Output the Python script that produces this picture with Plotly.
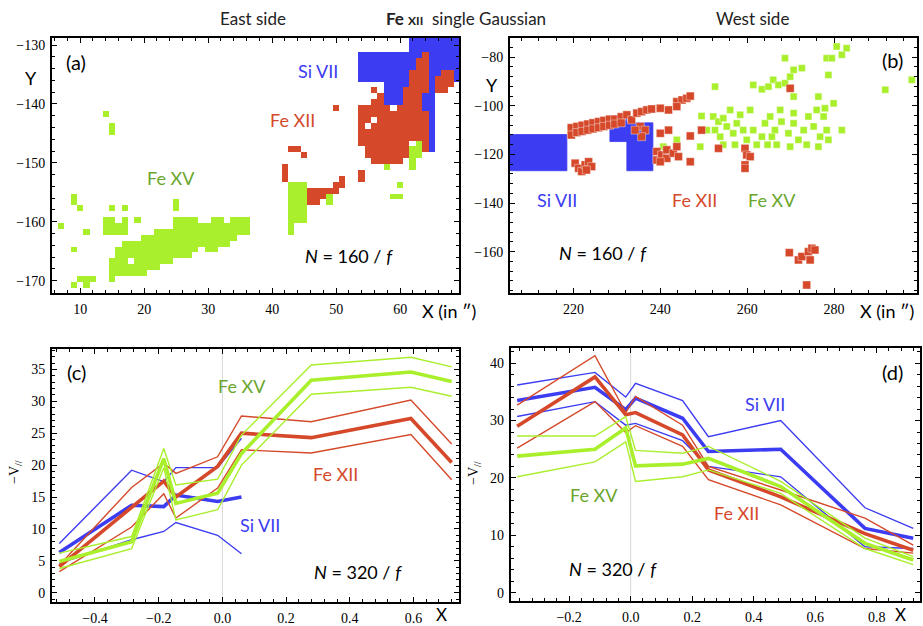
import numpy as np
import plotly.graph_objects as go

W, H = 923, 626

# ---------------- colours ----------------
BLUE = "#3c3cf2"
RED = "#d5492a"
GREEN = "#a9ef2c"
GREEN_TXT = "#6aa62c"

# ---------------- panel (a): pixel map, runs (Y, X_first, X_last) ----------------
a_blue_runs = [
    (-127.7, 62, 69), (-128.7, 62, 69), (-129.7, 62, 69), (-130.7, 62, 69),
    (-131.7, 54, 69), (-132.7, 54, 69), (-133.7, 54, 69), (-134.7, 54, 69), (-135.7, 54, 69),
    (-136.7, 58, 61), (-136.7, 65, 65), (-137.7, 58, 61), (-137.7, 65, 65),
    (-138.7, 58, 61), (-138.7, 64, 65), (-139.7, 58, 61), (-139.7, 64, 65),
    (-140.7, 64, 65), (-141.7, 65, 65), (-142.7, 65, 65), (-143.7, 65, 65),
    (-144.7, 65, 65), (-145.7, 65, 65), (-146.7, 65, 65), (-147.7, 65, 65),
]
a_red_runs = [
    (-131.7, 64, 64), (-132.7, 63, 64), (-133.7, 63, 64), (-134.7, 62, 64), (-135.7, 62, 64),
    (-134.7, 67, 68), (-135.7, 66, 68), (-136.7, 66, 68), (-137.7, 66, 67),
    (-136.7, 62, 64),
    (-137.7, 56, 56), (-137.7, 61, 64),
    (-138.7, 57, 57), (-138.7, 61, 63),
    (-139.7, 56, 57), (-139.7, 61, 63),
    (-140.7, 50, 50), (-140.7, 54, 58), (-140.7, 60, 63),
    (-141.7, 54, 64),
    (-142.7, 54, 55), (-142.7, 57, 64),
    (-143.7, 54, 54), (-143.7, 56, 64),
    (-144.7, 54, 64), (-145.7, 54, 64),
    (-146.7, 54, 61), (-146.7, 64, 64),
    (-147.7, 43, 44), (-147.7, 55, 61), (-147.7, 64, 64),
    (-148.7, 45, 45), (-148.7, 55, 61),
    (-149.7, 56, 60),
    (-150.7, 42, 42),
    (-151.7, 42, 42), (-151.7, 54, 54),
    (-152.7, 42, 42), (-152.7, 51, 51), (-152.7, 54, 54),
    (-153.7, 50, 51),
    (-154.7, 46, 50),
    (-155.7, 46, 49),
    (-156.7, 46, 47),
]
a_green_runs = [
    (-141.7, 14, 14), (-143.7, 15, 15), (-144.7, 15, 15),
    (-155.7, 9, 9), (-156.7, 9, 9), (-156.7, 25, 25),
    (-157.7, 10, 10), (-157.7, 15, 15), (-157.7, 17, 17), (-157.7, 25, 25),
    (-159.7, 14, 15), (-159.7, 17, 17), (-159.7, 19, 19), (-159.7, 25, 28),
    (-159.7, 31, 32), (-159.7, 34, 36),
    (-160.7, 7, 7), (-160.7, 14, 17), (-160.7, 25, 36),
    (-161.7, 11, 11), (-161.7, 14, 17), (-161.7, 22, 36),
    (-162.7, 20, 34),
    (-163.7, 17, 33),
    (-164.7, 9, 9), (-164.7, 16, 28), (-164.7, 30, 31),
    (-165.7, 16, 27),
    (-166.7, 15, 17), (-166.7, 19, 24),
    (-167.7, 15, 22),
    (-168.7, 15, 20),
    (-169.7, 10, 12), (-169.7, 15, 15),
    (-170.7, 9, 9), (-170.7, 11, 11),
    # right-hand green patches
    (-146.7, 63, 63), (-147.7, 62, 63), (-148.7, 62, 63), (-149.7, 62, 62), (-150.7, 62, 62),
    (-150.7, 58, 58), (-153.7, 60, 60), (-155.7, 59, 60),
    (-155.7, 49, 49), (-156.7, 49, 49),
    (-153.7, 43, 45), (-154.7, 43, 45), (-155.7, 43, 45), (-156.7, 43, 45),
    (-157.7, 43, 45), (-158.7, 43, 45), (-159.7, 43, 45), (-160.7, 43, 43), (-161.7, 43, 43),
]

# ---------------- panel (b) ----------------
b_blue_x0 = [200.0, 228.4, 232.3]
b_blue_x1 = [218.5, 232.3, 238.3]
b_blue_y0 = [-111.8, -104.0, -107.0]
b_blue_y1 = [-126.7, -114.7, -126.7]

b_red_x = [219.5, 219.5, 220.8, 220.8, 222.0, 222.0, 223.3, 223.3, 224.5, 224.5, 225.8, 225.8,
           227.0, 227.0, 228.3, 228.3, 229.5, 229.5, 231.0, 231.0,
           232.3, 233.4, 234.6, 235.7, 236.9, 238.0, 235.4, 236.5, 235.7, 234.2,
           240.0, 241.9, 243.8, 245.0, 246.1, 246.9, 240.0, 241.9, 243.8,
           239.2, 239.2, 240.3, 241.5, 241.5, 243.0, 243.8, 244.2, 240.0,
           220.4, 221.2, 221.9, 222.7, 223.5, 224.2, 223.0,
           246.9, 246.9, 249.5, 253.4, 259.5, 259.9, 260.7, 259.5, 259.5, 269.9,
           269.7, 271.8, 272.6, 274.1, 274.9, 274.5, 273.7, 275.6]
b_red_y = [-109.0, -112.0, -108.5, -111.0, -108.0, -110.5, -107.5, -110.0, -107.0, -109.5, -106.5, -109.0,
           -106.0, -108.5, -105.5, -108.0, -105.5, -107.5, -104.5, -107.0,
           -103.7, -105.8, -103.0, -102.4, -101.7, -101.3, -108.5, -110.0, -112.7, -110.0,
           -101.0, -101.7, -98.3, -97.6, -96.9, -96.0, -111.3, -110.0, -100.3,
           -118.8, -122.3, -120.2, -118.1, -121.6, -119.5, -116.8, -120.9, -123.0,
           -123.6, -125.7, -127.0, -124.3, -123.0, -125.0, -126.4,
           -123.0, -112.4, -110.0, -117.5, -117.5, -120.2, -120.9, -124.3, -125.7, -92.8,
           -160.4, -163.4, -162.0, -160.0, -158.6, -163.4, -173.7, -159.3]

b_green_x = [240.7, 243.8, 249.2, 249.5, 252.6,
             252.2, 253.4, 254.5, 255.3, 252.6, 253.8, 254.5, 256.8, 257.6, 258.4,
             259.1, 259.9, 257.2, 260.7, 261.4, 262.2, 263.4, 264.1, 265.3, 266.4,
             266.8, 267.9, 269.5, 270.7, 270.7, 271.8, 273.0, 274.1, 275.3, 276.0,
             276.8, 277.6, 278.3, 278.7, 276.4, 273.7, 279.9, 281.8, 277.9, 267.6,
             269.9, 264.7, 265.7, 256.1, 250.7,
             261.4, 263.4, 264.9, 266.0, 267.2, 268.7, 269.9, 270.7, 270.7, 268.7,
             272.6, 276.4, 278.3, 279.5, 280.6, 281.8, 282.9, 278.7, 291.8, 297.9]
b_green_y = [-116.8, -114.0, -116.8, -104.2, -92.1,
             -104.4, -106.5, -105.1, -108.5, -110.0, -112.7, -116.0, -111.3, -107.2, -103.7,
             -110.0, -114.0, -116.0, -101.7, -110.0, -116.0, -112.7, -107.2, -104.4, -110.0,
             -116.0, -106.5, -111.3, -107.2, -103.0, -114.0, -110.0, -104.4, -108.5, -101.7,
             -112.7, -104.4, -110.0, -114.0, -116.8, -116.0, -99.0, -110.0, -101.0, -101.7,
             -116.8, -116.0, -112.7, -101.7, -110.0,
             -91.4, -93.2, -92.1, -89.3, -91.4, -90.7, -88.0, -85.2, -96.2, -80.4,
             -84.5, -96.2, -80.4, -80.4, -75.6, -79.0, -76.3, -87.3, -93.4, -89.3]

# ---------------- panel (c): velocity profiles, east side ----------------
c_x_si = [-0.512, -0.285, -0.184, -0.146, -0.015, 0.06]
c_x = [-0.512, -0.285, -0.184, -0.146, -0.015, 0.06, 0.279, 0.592, 0.72]
c_si_hi = [7.7, 19.2, 17.4, 19.6, 19.6, 24.2]
c_si_mid = [6.3, 13.7, 13.5, 15.3, 14.3, 15.0]
c_si_lo = [4.6, 8.3, 9.6, 11.0, 9.0, 6.1]
c_fe12_hi = [4.3, 16.5, 20.3, 18.7, 21.3, 27.7, 26.8, 30.2, 23.3]
c_fe12_mid = [4.1, 13.5, 17.5, 15.0, 19.8, 25.0, 24.3, 27.3, 20.4]
c_fe12_lo = [3.3, 10.3, 15.5, 11.7, 16.4, 22.4, 21.9, 24.8, 17.7]
c_fe15_hi = [6.2, 8.8, 22.6, 16.9, 17.8, 24.7, 35.7, 36.9, 35.4]
c_fe15_mid = [4.9, 8.0, 21.0, 14.0, 15.6, 21.8, 33.3, 34.6, 33.1]
c_fe15_lo = [3.8, 6.9, 19.6, 11.4, 13.0, 20.0, 31.1, 32.2, 30.8]

# ---------------- panel (d): velocity profiles, west side ----------------
d_x = [-0.369, -0.116, -0.016, 0.016, 0.169, 0.253, 0.488, 0.762, 0.919]
d_si_hi = [36.2, 38.4, 34.1, 36.5, 33.5, 27.2, 30.0, 14.8, 11.2]
d_si_mid = [33.5, 35.8, 31.9, 33.9, 30.4, 24.6, 25.0, 11.2, 9.5]
d_si_lo = [30.7, 33.3, 29.2, 29.5, 26.5, 22.0, 20.2, 8.0, 7.7]
d_fe12_hi = [32.7, 41.3, 31.4, 34.2, 29.2, 22.0, 17.9, 13.0, 8.3]
d_fe12_mid = [29.0, 37.6, 31.0, 31.4, 27.5, 21.4, 16.7, 10.3, 7.4]
d_fe12_lo = [25.2, 33.3, 27.9, 29.1, 25.5, 19.7, 15.3, 7.7, 6.9]
d_fe15_hi = [27.3, 27.3, 30.7, 24.8, 24.3, 25.5, 19.4, 9.5, 6.3]
d_fe15_mid = [23.8, 25.0, 28.7, 22.1, 22.4, 23.4, 18.5, 8.6, 5.7]
d_fe15_lo = [20.2, 22.8, 26.3, 19.4, 20.2, 21.4, 17.3, 7.7, 4.9]

# ---------------- build figure ----------------
fig = go.Figure()

# panel (a) heatmap grid
xs = np.arange(5, 71)
ys = np.round(np.arange(-127.7, -172.8, -1.0), 1)
z = np.full((len(ys), len(xs)), np.nan)
yidx = {float(v): i for i, v in enumerate(ys)}
for val, runs in ((1, a_blue_runs), (2, a_red_runs), (3, a_green_runs)):
    for yy, x0, x1 in runs:
        r = yidx[round(yy, 1)]
        for xx in range(x0, x1 + 1):
            z[r, xx - xs[0]] = val
fig.add_trace(go.Heatmap(
    x=xs, y=ys, z=z, zmin=1, zmax=3, showscale=False, hoverinfo="skip",
    colorscale=[[0, BLUE], [0.25, BLUE], [0.25, RED], [0.75, RED], [0.75, GREEN], [1, GREEN]],
    xaxis="x", yaxis="y"))

# panel (b)
for x0, x1, y0, y1 in zip(b_blue_x0, b_blue_x1, b_blue_y0, b_blue_y1):
    fig.add_trace(go.Scatter(x=[x0, x1, x1, x0, x0], y=[y0, y0, y1, y1, y0], mode="lines",
                             fill="toself", fillcolor=BLUE, line=dict(width=0.8, color=BLUE),
                             showlegend=False, hoverinfo="skip", xaxis="x2", yaxis="y2"))
fig.add_trace(go.Scatter(x=b_green_x, y=b_green_y, mode="markers",
                         marker=dict(symbol="square", size=7, color=GREEN,
                                     line=dict(width=0.4, color="white")),
                         showlegend=False, xaxis="x2", yaxis="y2"))
fig.add_trace(go.Scatter(x=b_red_x, y=b_red_y, mode="markers",
                         marker=dict(symbol="square", size=8, color=RED,
                                     line=dict(width=0.4, color="white")),
                         showlegend=False, xaxis="x2", yaxis="y2"))


def add_line(x, y, color, width, xa, ya):
    fig.add_trace(go.Scatter(x=x, y=y, mode="lines", line=dict(color=color, width=width),
                             showlegend=False, xaxis=xa, yaxis=ya))


# panel (c)
for ys_, w in ((c_si_hi, 1.4), (c_si_lo, 1.4), (c_si_mid, 3.6)):
    add_line(c_x_si, ys_, BLUE, w, "x3", "y3")
for ys_, w in ((c_fe12_hi, 1.4), (c_fe12_lo, 1.4), (c_fe12_mid, 3.6)):
    add_line(c_x, ys_, RED, w, "x3", "y3")
for ys_, w in ((c_fe15_hi, 1.4), (c_fe15_lo, 1.4), (c_fe15_mid, 3.6)):
    add_line(c_x, ys_, GREEN, w, "x3", "y3")

# panel (d)
for ys_, w in ((d_si_hi, 1.4), (d_si_lo, 1.4), (d_si_mid, 3.6)):
    add_line(d_x, ys_, BLUE, w, "x4", "y4")
for ys_, w in ((d_fe12_hi, 1.4), (d_fe12_lo, 1.4), (d_fe12_mid, 3.6)):
    add_line(d_x, ys_, RED, w, "x4", "y4")
for ys_, w in ((d_fe15_hi, 1.4), (d_fe15_lo, 1.4), (d_fe15_mid, 3.6)):
    add_line(d_x, ys_, GREEN, w, "x4", "y4")

# zero reference lines
for xr, yr in (("x3", "y3 domain"), ("x4", "y4 domain")):
    fig.add_shape(type="line", xref=xr, yref=yr, x0=0, x1=0, y0=0, y1=1,
                  line=dict(color="#d8d8d8", width=1), layer="below")

SERIF = "Liberation Serif"
TICKFONT = dict(family=SERIF, size=14, color="black")


def axis(domain, rng, dtick, minor, anchor):
    return dict(domain=domain, range=rng, anchor=anchor, dtick=dtick,
                showline=True, linecolor="black", linewidth=2, mirror="allticks",
                ticks="inside", ticklen=5, tickwidth=1, tickcolor="black",
                minor=dict(ticks="inside", ticklen=3, tickwidth=1, tickcolor="black", dtick=minor),
                showgrid=False, zeroline=False, tickfont=TICKFONT, ticklabelstandoff=2)


def px(x):
    return x / W


def py(y):
    return 1 - y / H


fig.update_layout(
    width=W, height=H, margin=dict(l=0, r=0, t=0, b=0),
    paper_bgcolor="white", plot_bgcolor="white", showlegend=False,
    font=dict(family=SERIF),
    xaxis=axis([px(52), px(459)], [5.6, 69.2], 10, 2, "y"),
    yaxis=axis([py(293), py(38)], [-172.1, -128.8], 10, 2, "x"),
    xaxis2=axis([px(510), px(917)], [205.4, 299.1], 20, 4, "y2"),
    yaxis2=axis([py(293), py(38)], [-177, -72.1], 20, 4, "x2"),
    xaxis3=axis([px(52), px(459)], [-0.535, 0.743], 0.2, 0.04, "y3"),
    yaxis3=axis([py(602), py(349)], [-1.46, 38.2], 5, 1, "x3"),
    xaxis4=axis([px(510.7), px(920)], [-0.39, 0.941], 0.2, 0.04, "y4"),
    yaxis4=axis([py(601), py(347.7)], [-1.45, 42.7], 10, 2, "x4"),
)
fig.update_layout(xaxis3=dict(tickformat=".1f"), xaxis4=dict(tickformat=".1f"))

SANS = "Lato"
anns = [
    ("East side", 253, 18, 17, "#222", SANS, 0),
    ("<b>Fe <span style='font-size:12px'>XII</span></b>  single Gaussian", 466, 18, 17, "#222", SANS, 0),
    ("West side", 752, 18, 17, "#222", SANS, 0),
    ("(a)", 76, 62, 20, "black", SANS, 0),
    ("(b)", 892, 60, 20, "black", SANS, 0),
    ("(c)", 76, 372, 20, "black", SANS, 0),
    ("(d)", 892, 372, 20, "black", SANS, 0),
    ("Y", 31, 78, 18, "black", SANS, 0),
    ("Y", 492, 85, 18, "black", SANS, 0),
    ("X (in \u2033)", 449, 311, 18, "black", SANS, 0),
    ("X (in \u2033)", 887, 311, 18, "black", SANS, 0),
    ("X", 441, 614, 17, "black", SANS, 0),
    ("X", 900, 614, 17, "black", SANS, 0),
    ("\u2212V<sub>//</sub>", 15, 472, 14, "black", SERIF, -90),
    ("\u2212V<sub>//</sub>", 474, 473, 14, "black", SERIF, -90),
    ("Si VII", 318, 71, 18, BLUE, SANS, 0),
    ("Fe XII", 292, 120, 18, RED, SANS, 0),
    ("Fe XV", 171, 178, 18, GREEN_TXT, SANS, 0),
    ("<i>N</i> = 160 / <i>f</i>", 349, 256, 18, "black", SANS, 0),
    ("Si VII", 557, 200, 18, BLUE, SANS, 0),
    ("Fe XII", 694, 200, 18, RED, SANS, 0),
    ("Fe XV", 772, 200, 18, GREEN_TXT, SANS, 0),
    ("<i>N</i> = 160 / <i>f</i>", 603, 253, 18, "black", SANS, 0),
    ("Fe XV", 242, 386, 18, GREEN_TXT, SANS, 0),
    ("Fe XII", 335, 474, 18, RED, SANS, 0),
    ("Si VII", 260, 525, 18, BLUE, SANS, 0),
    ("<i>N</i> = 320 / <i>f</i>", 358, 572, 18, "black", SANS, 0),
    ("Si VII", 765, 404, 18, BLUE, SANS, 0),
    ("Fe XV", 594, 495, 18, GREEN_TXT, SANS, 0),
    ("Fe XII", 736, 513, 18, RED, SANS, 0),
    ("<i>N</i> = 320 / <i>f</i>", 613, 569, 18, "black", SANS, 0),
]
for text, x, y, size, color, fam, ang in anns:
    fig.add_annotation(text=text, x=px(x), y=py(y), xref="paper", yref="paper",
                       xanchor="center", yanchor="middle", showarrow=False, textangle=ang,
                       font=dict(size=size, color=color, family=fam))

fig.write_html("out.html", config={"displayModeBar": False, "staticPlot": True},
               post_script="document.body.style.margin='0px';document.body.style.overflow='hidden';")
